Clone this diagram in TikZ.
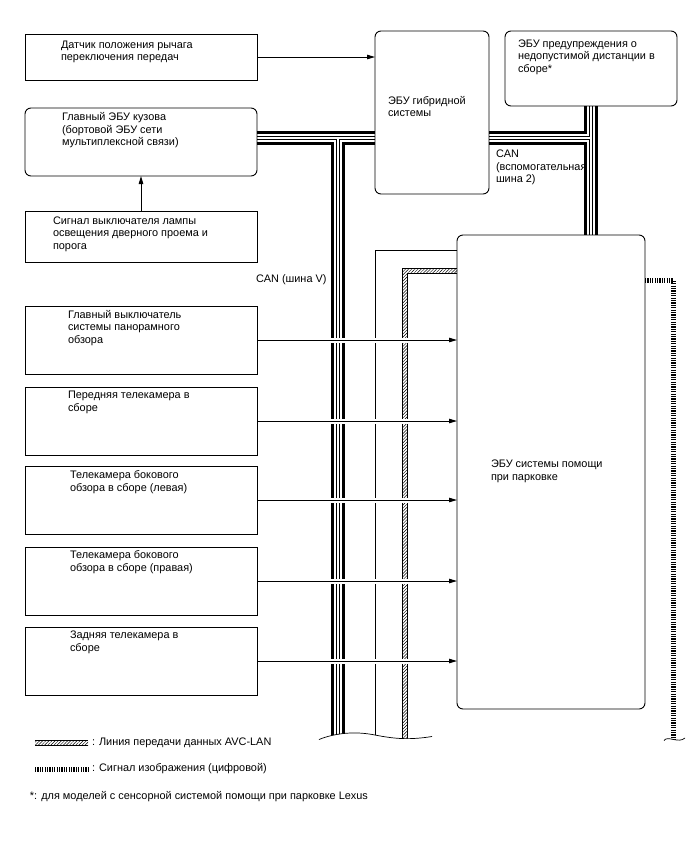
\documentclass[tikz,border=0pt]{standalone}
\usepackage{fontspec}
\setmainfont{Liberation Sans}
\usetikzlibrary{arrows.meta,patterns.meta,backgrounds}
\newcommand\ml[1]{\begin{tabular}[t]{@{}l@{}}#1\end{tabular}}
\begin{document}
\begin{tikzpicture}[x=1pt,y=-1pt,
  box/.style={draw, line width=0.9pt, outer sep=0pt, inner sep=0pt, minimum width=232pt},
  rbox/.style={box, rounded corners=6pt},
  txt/.style={anchor=base west, inner sep=0pt, outer sep=0pt, font=\fontsize{10.9}{12.6}\selectfont},
  sig/.style={line width=0.9pt, -{Triangle[length=8pt,width=4.5pt]},
     preaction={draw=white, line width=5pt, -, shorten <=3pt, shorten >=12pt}},
  plain/.style={line width=0.9pt},
  hatch/.style={pattern={Lines[angle=45,distance=2.2pt,line width=0.45pt]}},
  ladderout/.style={line width=0.6pt, double distance=4.4pt},
  ladderin/.style={line width=4.4pt, dash pattern=on 1.1pt off 1.3pt},
  wave/.style={line width=0.7pt}]
\useasboundingbox (0,0) rectangle (688,852);

% boxes
\node[box, minimum height=46pt] (A) at (141,57) {};
\node[rbox, minimum height=68pt] (B) at (141,142) {};
\node[box, minimum height=51pt] (C) at (141,236.5) {};
\node[box, minimum height=68pt] (D) at (141,340) {};
\node[box, minimum height=68pt] (E) at (141,421) {};
\node[box, minimum height=68pt] (F) at (141,500) {};
\node[box, minimum height=68pt] (G) at (141,581) {};
\node[box, minimum height=68pt] (H) at (141,661) {};
\node[rbox, minimum width=114pt, minimum height=163pt] (Hy) at (432,112.5) {};
\node[rbox, minimum width=172pt, minimum height=75pt] (Ds) at (591,68.5) {};
\node[rbox, minimum width=188pt, minimum height=474pt] (P) at (551,472) {};

% texts
\node[txt] (tA) at (61,48) {\ml{Датчик положения рычага\\переключения передач}};
\node[txt] (tB) at (62,120.7) {\ml{Главный ЭБУ кузова\\(бортовой ЭБУ сети\\мультиплексной связи)}};
\node[txt] (tC) at (53,224) {\ml{Сигнал выключателя лампы\\освещения дверного проема и\\порога}};
\node[txt] (tD) at (68,318.3) {\ml{Главный выключатель\\системы панорамного\\обзора}};
\node[txt] (tE) at (68,398.5) {\ml{Передняя телекамера в\\сборе}};
\node[txt] (tF) at (70,478.5) {\ml{Телекамера бокового\\обзора в сборе (левая)}};
\node[txt] (tG) at (70,558.5) {\ml{Телекамера бокового\\обзора в сборе (правая)}};
\node[txt] (tH) at (70,638.5) {\ml{Задняя телекамера в\\сборе}};
\node[txt] (tHy) at (388,104) {\ml{ЭБУ гибридной\\системы}};
\node[txt] (tDs) at (518,47) {\ml{ЭБУ предупреждения о\\недопустимой дистанции в\\сборе*}};
\node[txt] (tP) at (491,467.5) {\ml{ЭБУ системы помощи\\при парковке}};
\node[txt] (can2) at (496,157.5) {\ml{CAN\\(вспомогательная\\шина 2)}};
\node[txt] (canv) at (256,282) {CAN (шина V)};
\node[txt] (lg1) at (92,745) {: Линия передачи данных AVC-LAN};
\node[txt] (lg2) at (92,771) {: Сигнал изображения (цифровой)};
\node[txt] (foot) at (30,799) {*: для моделей с сенсорной системой помощи при парковке Lexus};

% helper coordinates
\coordinate (by) at (0,138);
\coordinate (jb) at (338,138);
\coordinate (bot) at (0,760);
\coordinate (thy) at (0,250);
\coordinate (tx) at (375,0);
\coordinate (hy1) at (0,268);
\coordinate (hy2) at (0,273);
\coordinate (hx1) at (402,0);
\coordinate (hx2) at (407,0);
\coordinate (vy) at (0,280.5);
\coordinate (vx) at (673.5,0);

\newcommand\canpaths[1]{%
  \draw[#1] (B.east |- by) -- (Hy.west |- by);
  \draw[#1] (Hy.east |- by) -- (Ds.south |- by);
  \draw[#1] (Ds.south) -- (Ds.south |- P.north);
  \draw[#1] (jb) -- (jb |- bot);
}

\begin{scope}[on background layer]
  \clip (0,0) -- (0,739.5) -- (319,739.5)
     .. controls (335,733) and (355,731) .. (375,735)
     .. controls (395,739) and (410,740) .. (432,736.5)
     -- (664,740.5) .. controls (668,735) and (678,744) .. (685,738)
     -- (688,738) -- (688,0) -- cycle;
  % CAN buses
  \canpaths{line width=13.5pt}
  \canpaths{white, line width=8.5pt}
  \canpaths{line width=3.5pt}
  \canpaths{white, line width=1.5pt}
  % thin line
  \draw[plain] (P.west |- thy) -- (tx |- thy) -- (tx |- bot);
  % AVC-LAN hatched
  \fill[hatch] (P.west |- hy1) -- (hx1 |- hy1) -- (hx1 |- bot) -- (hx2 |- bot) -- (hx2 |- hy2) -- (P.west |- hy2) -- cycle;
  \draw[line width=0.4pt] (P.west |- hy1) -- (hx1 |- hy1) -- (hx1 |- bot);
  \draw[line width=0.4pt] (hx2 |- bot) -- (hx2 |- hy2) -- (P.west |- hy2);
  % video ladder
  \draw[ladderout] (P.east |- vy) -- (vx |- vy) -- (vx |- bot);
  \draw[ladderin] (P.east |- vy) -- (vx |- vy) -- (vx |- bot);
\end{scope}

% break waves
\draw[wave] (319,739.5) .. controls (335,733) and (355,731) .. (375,735)
     .. controls (395,739) and (410,740) .. (432,736.5);
\draw[wave] (664,740.5) .. controls (668,735) and (678,744) .. (685,738);

% signal arrows
\draw[sig] (A.east) -- (A.east -| Hy.west);
\draw[sig] (C.north) -- (B.south);
\draw[sig] (D.east) -- (D.east -| P.west);
\draw[sig] (E.east) -- (E.east -| P.west);
\draw[sig] (F.east) -- (F.east -| P.west);
\draw[sig] (G.east) -- (G.east -| P.west);
\draw[sig] (H.east) -- (H.east -| P.west);

% legend samples
\fill[hatch] (35,740) rectangle (88,745);
\draw[line width=0.4pt] (35,740) -- (88,740) (35,745) -- (88,745);
\draw[ladderout] (35,769.5) -- (88,769.5);
\draw[ladderin] (35,769.5) -- (88,769.5);
\end{tikzpicture}
\end{document}
